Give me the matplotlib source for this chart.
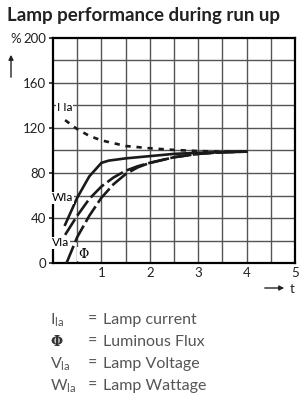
import matplotlib.pyplot as plt

# run-up curves (t in min, value in %)
t_ila = [0.25, 0.5, 0.75, 1.0, 1.5, 2.0, 2.5, 3.0, 3.5, 4.0]
ila = [127, 119, 113, 109, 104, 102, 100.5, 99.5, 99, 99]

t_wla = [0.25, 0.5, 0.75, 1.0, 1.15, 1.5, 2.0, 2.5, 3.0, 3.5, 4.0]
wla = [34, 58, 77, 89, 91, 93, 95, 97, 98, 98.5, 99]

t_vla = [0.25, 0.5, 0.75, 1.0, 1.25, 1.5, 1.75, 2.0, 2.5, 3.0, 3.5, 4.0]
vla = [25, 42, 57, 68, 76, 82, 86, 89, 94, 97, 98.5, 99]

t_phi = [0.28, 0.5, 0.75, 1.0, 1.25, 1.5, 1.75, 2.0, 2.5, 3.0, 3.5, 4.0]
phi = [0, 23, 42, 58, 70, 79, 85, 89, 94, 97, 98.5, 99]

y_ticks = [0, 40, 80, 120, 160, 200]
x_ticks = [1, 2, 3, 4, 5]

legend_sym = [r"$\mathregular{I_{la}}$", "Φ", r"$\mathregular{V_{la}}$", r"$\mathregular{W_{la}}$"]
legend_txt = ["Lamp current", "Luminous Flux", "Lamp Voltage", "Lamp Wattage"]

plt.rcParams["font.family"] = ["Lato", "DejaVu Sans"]

fig = plt.figure(figsize=(3.02, 4.03), dpi=100)
ax = fig.add_axes([53 / 302, 1 - 263 / 403, 242 / 302, 225 / 403])

ax.set_xlim(0, 5)
ax.set_ylim(0, 200)
for gx in [i * 0.5 for i in range(1, 10)]:
    ax.axvline(gx, color="#555555", lw=1.0, zorder=1)
for gy in range(20, 200, 20):
    ax.axhline(gy, color="#555555", lw=1.0, zorder=1)
for s in ax.spines.values():
    s.set_linewidth(1.6)
    s.set_zorder(2)

ax.set_yticks(y_ticks)
ax.set_xticks(x_ticks)
ax.tick_params(axis="both", direction="out", length=3, width=1.2, labelsize=9.5, pad=2, colors="#222222")
ax.tick_params(axis="x", length=0, pad=3)

lw = 1.9
ax.plot(t_ila, ila, color="#1a1a1a", lw=lw, dashes=(2.0, 2.2), zorder=3)
ax.plot(t_wla, wla, color="#1a1a1a", lw=lw, zorder=3)
ax.plot(t_vla, vla, color="#1a1a1a", lw=lw, dashes=(7, 1.6), zorder=3)
ax.plot(t_phi, phi, color="#1a1a1a", lw=lw, dashes=(7, 1.6), zorder=3)

box = dict(facecolor="white", edgecolor="none", pad=0.5)
ax.text(0.08, 138, "I Ia", fontsize=8.5, ha="left", va="center", bbox=box, zorder=4)
ax.text(-0.02, 58, "WIa", fontsize=8.5, ha="left", va="center", bbox=box, zorder=4)
ax.text(-0.02, 18, "VIa", fontsize=8.5, ha="left", va="center", bbox=box, zorder=4)
ax.text(0.52, 8, "Φ", fontsize=9, ha="left", va="center", bbox=box, zorder=4,
        family="DejaVu Serif")

fig.suptitle("Lamp performance during run up", x=7 / 302, y=1 - 16 / 403, ha="left", va="center",
             fontsize=13.5, fontweight="bold", color="#222222")
fig.text(10 / 302, 1 - 39 / 403, "%", fontsize=9.5, ha="left", va="center", color="#222222")
fig.add_artist(plt.Annotation("", xy=(11 / 302, 1 - 52 / 403), xytext=(11 / 302, 1 - 80 / 403),
                              xycoords="figure fraction",
                              arrowprops=dict(arrowstyle="-|>", color="#222222", lw=1.0,
                                              mutation_scale=7)))
fig.add_artist(plt.Annotation("", xy=(287 / 302, 1 - 288 / 403), xytext=(262 / 302, 1 - 288 / 403),
                              xycoords="figure fraction",
                              arrowprops=dict(arrowstyle="-|>", color="#222222", lw=1.0,
                                              mutation_scale=7)))
fig.text(290 / 302, 1 - 289 / 403, "t", fontsize=9.5, ha="left", va="center", color="#222222")

rows_y = [320, 342, 364, 386]
for sym, txt, ry in zip(legend_sym, legend_txt, rows_y):
    if sym == "Φ":
        fig.text(50 / 302, 1 - ry / 403, sym, fontsize=10, ha="left", va="center",
                 color="#333333", family="DejaVu Serif", fontweight="bold")
    else:
        fig.text(50 / 302, 1 - ry / 403, sym, fontsize=11.5, ha="left", va="center", color="#555555")
    fig.text(88 / 302, 1 - ry / 403, "=", fontsize=11.5, ha="left", va="center", color="#555555")
    fig.text(103 / 302, 1 - ry / 403, txt, fontsize=11.5, ha="left", va="center", color="#555555")

fig.savefig("out.png", dpi=100)
